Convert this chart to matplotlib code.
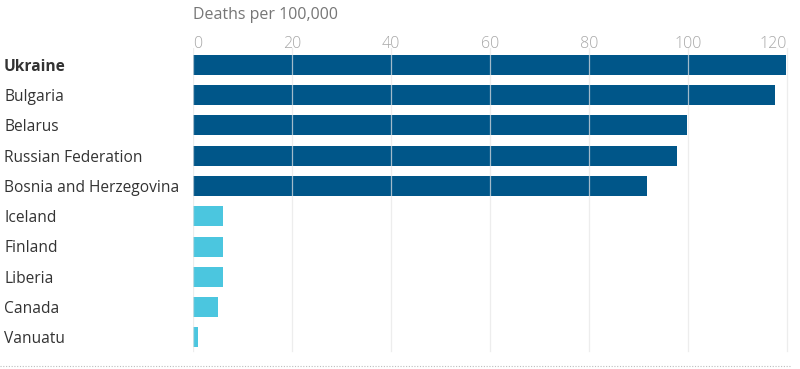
import matplotlib.pyplot as plt
import matplotlib.transforms as mtransforms
from matplotlib.lines import Line2D

# Values
countries = ["Ukraine", "Bulgaria", "Belarus", "Russian Federation",
             "Bosnia and Herzegovina", "Iceland", "Finland", "Liberia",
             "Canada", "Vanuatu"]
deaths = [119.7, 117.6, 99.8, 97.8, 91.7, 6.1, 6.1, 6.1, 5.0, 1.0]
highest = [True] * 5 + [False] * 5
ticks = [0, 20, 40, 60, 80, 100, 120]

plt.rcParams['font.family'] = ['Open Sans', 'DejaVu Sans']

dark = "#005689"
light = "#4bc6df"

fig = plt.figure(figsize=(8, 3.69), dpi=100)
ax = fig.add_axes([193 / 800, 9 / 369, (789.5 - 193) / 800, 312 / 369])

y = list(range(len(countries)))
colors = [dark if h else light for h in highest]
ax.barh(y, deaths, height=0.66, color=colors, zorder=1)

ax.set_xlim(0, 120.5)
ax.set_ylim(len(countries) - 0.25, -0.56)

# gridlines drawn on top of the bars
for t in ticks:
    ax.axvline(t, ymin=0.03, color="#e6e6e6", lw=0.9, zorder=2, alpha=0.7)

ax.xaxis.tick_top()
ax.set_xticks(ticks)
ax.set_xticklabels([str(t) for t in ticks], color="#a8a8a8", fontsize=11.5,
                   fontweight="light")
ax.tick_params(axis="x", length=0, pad=-3)
labels = ax.get_xticklabels()
labels[0].set_ha("left")
labels[-1].set_ha("right")
ax.set_yticks([])
for s in ax.spines.values():
    s.set_visible(False)

# country labels at the left edge
trans = mtransforms.blended_transform_factory(fig.transFigure, ax.transData)
for i, name in enumerate(countries):
    ax.text(4 / 800, i + 0.06, name, transform=trans, ha="left", va="center",
            fontsize=11.2, color="#333333",
            fontweight="bold" if i == 0 else "normal")

fig.text(193 / 800, 1 - 15 / 369, "Deaths per 100,000", ha="left", va="center",
         fontsize=11.5, color="#767676")

fig.add_artist(Line2D([0, 790 / 800], [1 - 366 / 369] * 2, transform=fig.transFigure,
                      color="#bdbdbd", lw=0.8, linestyle=(0, (1, 1.5))))

fig.savefig("out.png", dpi=100)
